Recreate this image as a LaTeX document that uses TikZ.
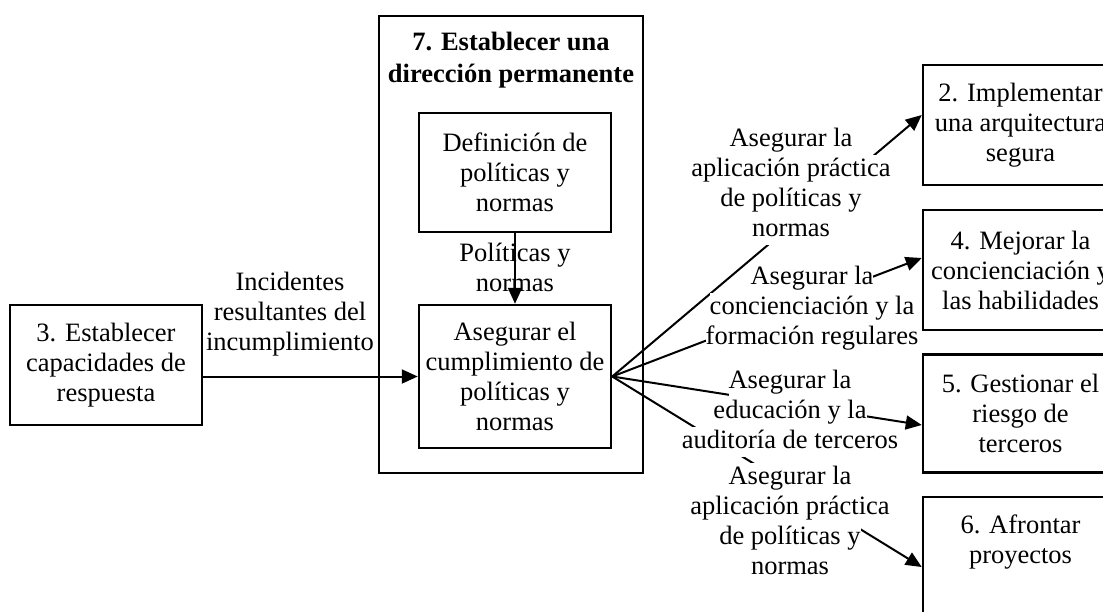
\documentclass[tikz,border=0pt]{standalone}
\usepackage{fontspec}
\setmainfont{Liberation Serif}
\usetikzlibrary{arrows.meta}
\newcommand{\wline}[1]{{\setlength{\fboxsep}{0pt}\colorbox{white}{\strut #1}}}

\begin{document}
\begin{tikzpicture}[x=1pt, y=-1pt,
    box/.style={draw, line width=2.5, align=center, inner sep=0, minimum width=192, minimum height=120, font=\fontsize{26.5}{30}\selectfont},
    lbl/.style={align=center, inner sep=0, font=\fontsize{26.5}{30}\selectfont},
    conn/.style={line width=2, -{Triangle[length=16pt, width=14pt]}}]
      \useasboundingbox (0,0) rectangle (1103,611);
      % left and middle boxes
      \node[box] (B3) at (106,365) {3. Establecer\\capacidades de\\respuesta};
      \node[draw, line width=2.5, inner sep=0, minimum width=264, minimum height=457] (B7) at (511,244.5) {};
      \node[lbl, font=\fontsize{26.5}{32}\selectfont\bfseries] (T7) at (511,60) {7. Establecer una\\dirección permanente};
      \node[box, minimum height=119] (BD) at (515,172.5) {Definición de\\políticas y\\normas};
      \node[box, minimum height=143] (BA) at (515,376.5) {Asegurar el\\cumplimiento de\\políticas y\\normas};
      % right boxes
      \node[box, minimum width=195] (B2) at (1020.5,125) {2. Implementar\\una arquitectura\\segura};
      \node[box, minimum width=195] (B4) at (1020.5,270) {4. Mejorar la\\concienciación y\\las habilidades};
      \node[box, minimum width=195, minimum height=118] (B5) at (1020.5,413.5) {5. Gestionar el\\riesgo de\\terceros};
      \node[box, minimum width=195] (B6) at (1020.5,557) {\strut 6. Afrontar\\\strut proyectos\\ \strut};
      % connectors
      \draw[conn] (BD.south) -- (BA.north);
      \draw[conn] (B3.east |- BA.west) -- (BA.west);
      \draw[conn] (BA.east) -- ([yshift=10pt]B2.west);
      \draw[conn] (BA.east) -- ([yshift=12pt]B4.west);
      \draw[conn] (BA.east) -- ([yshift=-11.5pt]B5.west);
      \draw[conn] (BA.east) -- ([yshift=-10pt]B6.west);
      % labels
      \node[lbl] (P1) at (515,267) {Políticas y\\normas};
      \node[lbl] (I1) at (290,314) {Incidentes\\resultantes del\\incumplimiento};
      \node[lbl] (L2) at (791,185) {\wline{Asegurar la}\\\wline{aplicación práctica}\\\wline{de políticas y}\\\wline{normas}};
      \node[lbl] (L4) at (812,308) {\wline{Asegurar la}\\\wline{concienciación y la}\\\wline{formación regulares}};
      \node[lbl] (L5) at (790,412) {\wline{Asegurar la}\\\wline{educación y la}\\\wline{auditoría de terceros}};
      \node[lbl] (L6) at (790,523) {\wline{Asegurar la}\\\wline{aplicación práctica}\\\wline{de políticas y}\\\wline{normas}};
    \end{tikzpicture}
\end{document}
